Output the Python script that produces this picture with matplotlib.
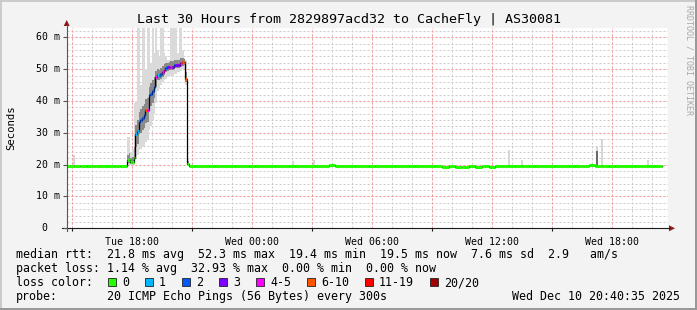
import numpy as np
import matplotlib
matplotlib.use('Agg')
import matplotlib.pyplot as plt
import matplotlib.transforms as mtransforms
from matplotlib.patches import Rectangle, Polygon

plt.rcParams['font.family'] = ['DejaVu Sans Mono', 'DejaVu Sans']

# 时间单位: 小时, 0 = 图的左边缘
step = 1 / 12        # 5 分钟一个点
base_step = 1 / 3    # 平稳段每 20 分钟一个值

# 峰值之前的中位数 (ms)
base_pre = [19.6, 19.5, 19.6, 19.5, 19.6, 19.5, 19.6, 19.6, 19.7]

# 峰值段 (每 5 分钟)
spike_start = 3.0
spike_med = [21.4, 21.4, 20.9, 20.9, 22.0, 29.5, 30.5, 33.5, 33.9, 34.8,
             35.5, 37.1, 37.3, 41.8, 42.2, 43.0, 44.4, 47.6, 48.1, 47.9,
             48.6, 49.2, 49.8, 50.3, 50.6, 50.8, 50.8, 50.8, 51.2, 51.3,
             51.4, 51.4, 51.8, 52.1, 52.3, 47.0, 20.3]
spike_loss = [0, 0, 0, 0, 0, 1, 1, 2, 2, 2,
              2, 7, 4, 2, 2, 2, 2, 4, 1, 1,
              2, 4, 4, 2, 3, 3, 4, 3, 2, 3,
              3, 3, 4, 7, 7, 7, 0]
spike_lo = [19.8, 19.8, 19.9, 19.9, 20.0, 22.0, 23.0, 24.5, 25.0, 25.5,
            26.0, 27.0, 28.0, 31.0, 32.0, 34.0, 36.0, 39.5, 43.0, 44.0,
            45.0, 46.0, 46.5, 47.0, 47.5, 48.0, 48.0, 48.0, 48.5, 48.5,
            49.0, 49.0, 49.5, 50.0, 50.0, 45.0, 19.6]
spike_hi = [28.8, 28.8, 24.0, 25.0, 39.5, 40.0, 63.5, 63.5, 45.0, 63.5,
            63.5, 50.0, 63.5, 63.5, 52.0, 63.5, 55.0, 63.5, 56.0, 54.0,
            63.5, 63.5, 55.0, 54.0, 53.0, 53.0, 63.5, 63.5, 63.5, 63.5,
            55.0, 63.5, 63.5, 56.0, 53.5, 53.0, 22.0]
spike_ilo = [20.5, 20.5, 20.3, 20.3, 20.8, 25.5, 26.5, 29.5, 30.0, 31.0,
             31.5, 33.0, 33.5, 37.5, 38.5, 39.5, 41.0, 44.5, 46.5, 46.5,
             47.0, 47.5, 48.2, 49.0, 49.5, 49.8, 49.8, 49.8, 50.0, 50.2,
             50.5, 50.5, 50.8, 51.0, 51.2, 46.0, 19.9]
spike_ihi = [23.0, 23.5, 22.0, 22.5, 25.5, 32.5, 34.0, 36.5, 37.5, 38.5,
             39.0, 40.5, 41.0, 44.5, 45.5, 46.5, 47.5, 49.5, 50.0, 49.8,
             50.5, 51.0, 51.5, 51.8, 52.0, 52.2, 52.5, 52.5, 53.0, 53.0,
             52.8, 53.0, 53.5, 53.5, 53.3, 49.0, 21.0]

# 峰值之后的中位数 (每 20 分钟)
base_post = [19.5, 19.6, 19.6, 19.5, 19.6, 19.6, 19.5, 19.6, 19.7, 19.6, 19.6, 19.5,
             19.7, 19.7, 19.6, 19.7, 19.7, 19.7, 19.6, 19.7, 19.7, 19.8, 19.7, 19.6,
             19.7, 19.6, 19.7, 19.7, 19.6, 19.7, 19.7, 19.7, 19.7, 19.6, 19.7, 19.7,
             19.6, 19.7, 19.4, 19.6, 19.4, 19.4, 19.5, 19.4, 19.6, 19.4, 19.6, 19.7,
             19.7, 19.7, 19.6, 19.7, 19.7, 19.6, 19.7, 19.7, 19.6, 19.7, 19.7, 19.7,
             19.8, 19.7, 19.6, 19.7, 19.7, 19.6, 19.7, 19.7, 19.6, 19.7, 19.6]

# 平稳段里的零星烟雾
blip_t = [0.3, 11.25, 12.3, 22.05, 22.7, 26.45, 26.7, 29.0]
blip_lo = [19.5, 19.5, 19.5, 19.5, 19.5, 19.5, 19.5, 19.5]
blip_hi = [23.0, 21.0, 21.3, 24.5, 21.4, 25.5, 27.9, 21.4]
dark_t = [26.45]
dark_lo = [19.8]
dark_hi = [24.3]

loss_names = ['0', '1', '2', '3', '4-5', '6-10', '11-19', '20/20']
loss_colors = ['#26ff00', '#00b8ff', '#0059ff', '#7e00ff',
               '#ff00ff', '#ff5500', '#ff0000', '#a10000']
loss_edges = [0, 1, 2, 3, 4, 6, 11, 20]

tick_hours = [3.25, 9.25, 15.25, 21.25, 27.25]
tick_names = ['Tue 18:00', 'Wed 00:00', 'Wed 06:00', 'Wed 12:00', 'Wed 18:00']
y_major = [0, 10, 20, 30, 40, 50, 60]
y_names = ['0', '10 m', '20 m', '30 m', '40 m', '50 m', '60 m']

# 拼接时间轴
t_pre = np.arange(len(base_pre)) * base_step
t_spike = spike_start + np.arange(len(spike_med)) * step
post_start = spike_start + len(spike_med) * step
t_post = post_start + np.arange(len(base_post)) * base_step

t_all = np.concatenate([t_pre, t_spike, t_post])
w_all = np.concatenate([np.full(len(t_pre), base_step), np.full(len(t_spike), step),
                        np.full(len(t_post), base_step)])
med_all = np.concatenate([base_pre, spike_med, base_post])
loss_all = np.concatenate([np.zeros(len(t_pre)), spike_loss, np.zeros(len(t_post))])
col_idx = np.searchsorted(loss_edges, loss_all, side='right') - 1
col_all = [loss_colors[i] for i in col_idx]

W, H = 697, 310
fig = plt.figure(figsize=(W / 100, H / 100), dpi=100, facecolor='#f3f3f3')

x_left, x_right, y_top, y_bot = 67, 668, 27.5, 228.3
ax = fig.add_axes([x_left / W, (H - y_bot) / H, (x_right - x_left) / W, (y_bot - y_top) / H])
ax.set_facecolor('white')
ax.set_xlim(0, (x_right - x_left) / 20)
ytop = (y_bot - y_top) / ((y_bot - 37.3) / 60)
ax.set_ylim(0, ytop)
ax.set_xticks([])
ax.set_yticks([])
for s in ax.spines.values():
    s.set_visible(False)

# 网格 (点线)
dots = (0, (2, 2))
hours_minor = np.arange(0.25, 30.1, 1.0)
hours_major = np.arange(0.25, 30.1, 3.0)
ax.vlines(hours_minor, 0, ytop, colors='#cccccc', lw=0.72, linestyles=dots, zorder=1)
ax.hlines(np.arange(2, 63, 2), 0, 30.05, colors='#cccccc', lw=0.72, linestyles=dots, zorder=1)
ax.vlines(hours_major, 0, ytop, colors='#f59a9a', lw=0.72, linestyles=dots, zorder=1.2)
ax.hlines(y_major[1:], 0, 30.05, colors='#f59a9a', lw=0.72, linestyles=dots, zorder=1.2)

# 烟雾
ax.bar(t_spike, np.array(spike_hi) - np.array(spike_lo), bottom=spike_lo, width=step,
       align='edge', color='#dadada', linewidth=0, zorder=2)
ax.bar(t_spike, np.array(spike_ihi) - np.array(spike_ilo), bottom=spike_ilo, width=step,
       align='edge', color='#8a8a8a', linewidth=0, zorder=2.1)
ax.bar(blip_t, np.array(blip_hi) - np.array(blip_lo), bottom=blip_lo, width=step,
       align='edge', color='#d6d6d6', linewidth=0, zorder=2)
ax.bar(dark_t, np.array(dark_hi) - np.array(dark_lo), bottom=dark_lo, width=step,
       align='edge', color='#6a6a6a', linewidth=0, zorder=2.1)

# 中位数: 黑色阶梯线 + 按丢包着色
t_end = np.append(t_all, t_all[-1] + w_all[-1])
m_end = np.append(med_all, med_all[-1])
ax.step(t_end, m_end, where='post', color='black', lw=0.9, zorder=3)
ax.hlines(med_all, t_all, t_all + w_all, colors=col_all, lw=2.2, zorder=4)

# 覆盖层: 像素坐标
ov = fig.add_axes([0, 0, 1, 1], zorder=10)
ov.set_xlim(0, W)
ov.set_ylim(H, 0)
ov.axis('off')
ov.patch.set_alpha(0)

bx = mtransforms.blended_transform_factory(ax.transData, ov.transData)
by = mtransforms.blended_transform_factory(ov.transData, ax.transData)

# 边框
ov.add_patch(Rectangle((0, 0), W, 2, color='#cbcbcb', lw=0))
ov.add_patch(Rectangle((0, 0), 2, H, color='#cbcbcb', lw=0))
ov.add_patch(Rectangle((0, H - 2), W, 2, color='#999999', lw=0))
ov.add_patch(Rectangle((W - 2.5, 0), 2.5, H, color='#999999', lw=0))

# 坐标轴线和箭头
ov.plot([62, x_right + 1], [y_bot, y_bot], color='#1a1a1a', lw=0.8)
ov.plot([x_left - 0.3, x_left - 0.3], [y_bot + 3, 25], color='#555555', lw=0.8)
ov.add_patch(Polygon([[x_right + 7, y_bot], [x_right + 1, y_bot - 3], [x_right + 1, y_bot + 3]],
                     closed=True, color='#8b1a1a', lw=0))
ov.add_patch(Polygon([[x_left - 0.3, 20], [x_left - 3.3, 26], [x_left + 2.7, 26]],
                     closed=True, color='#8b1a1a', lw=0))

# 刻度
tick6 = np.arange(0.25, 30.1, 6.0)
ov.vlines(tick6, y_bot, y_bot + 3, transform=bx, colors='#1a1a1a', lw=0.8)
ov.hlines(y_major, x_left - 4, x_left, transform=by, colors='#555555', lw=0.8)

for h, name in zip(tick_hours, tick_names):
    ov.text(h, 245, name, transform=bx, ha='center', va='baseline', fontsize=7.1)
for v, name in zip(y_major, y_names):
    xr = 47 if v == 0 else 60
    ov.text(xr, v, name, transform=by, ha='right', va='center', fontsize=7.1)

ov.text(11, 128, 'Seconds', rotation=90, ha='center', va='center', fontsize=7.7)
ov.text(349, 23.5, 'Last 30 Hours from 2829897acd32 to CacheFly | AS30081',
        ha='center', va='baseline', fontsize=9.6)
ov.text(688.5, 60, 'RRDTOOL / TOBI OETIKER', rotation=270, ha='center', va='center',
        fontsize=6, color='#a8a8a8')

# 图例
fs = 8.4
ov.text(16, 258, 'median rtt:', fontsize=fs, va='baseline')
ov.text(107, 258, '21.8 ms avg  52.3 ms max  19.4 ms min  19.5 ms now  7.6 ms sd  2.9   am/s',
        fontsize=fs, va='baseline')
ov.text(16, 272, 'packet loss:', fontsize=fs, va='baseline')
ov.text(107, 272, '1.14 % avg  32.93 % max  0.00 % min  0.00 % now', fontsize=fs, va='baseline')
ov.text(16, 286, 'loss color:', fontsize=fs, va='baseline')
bx0 = 108
for name, c in zip(loss_names, loss_colors):
    ov.add_patch(Rectangle((bx0, 278), 8, 8, facecolor=c, edgecolor='#222222', lw=0.6))
    ov.text(bx0 + 14, 286, name, fontsize=fs, va='baseline')
    bx0 += 30 + 7 * len(name)
ov.text(16, 300, 'probe:', fontsize=fs, va='baseline')
ov.text(107, 300, '20 ICMP Echo Pings (56 Bytes) every 300s', fontsize=fs, va='baseline')
ov.text(680, 300, 'Wed Dec 10 20:40:35 2025', fontsize=fs, va='baseline', ha='right')

fig.savefig('out.png', dpi=100, facecolor=fig.get_facecolor())
